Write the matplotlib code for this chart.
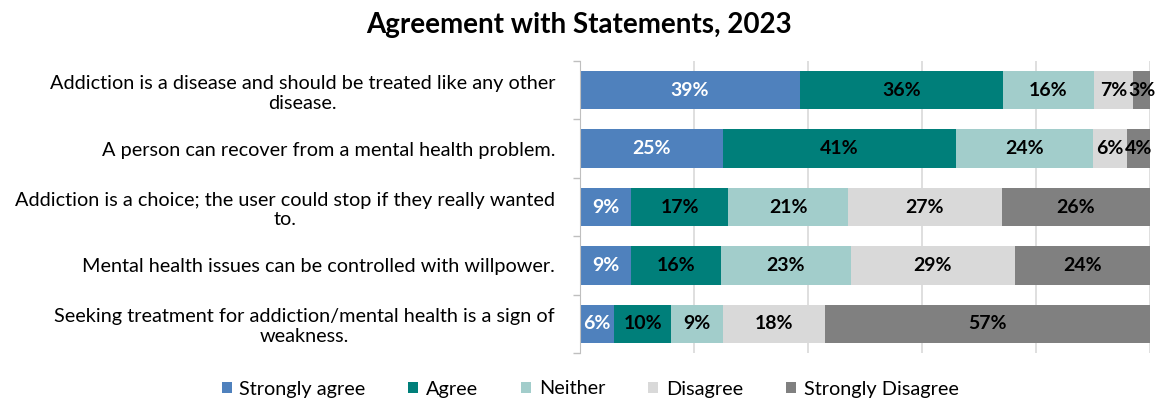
import matplotlib.pyplot as plt
import numpy as np

plt.rcParams['font.family'] = ['Lato', 'DejaVu Sans']

statements = [
    "Addiction is a disease and should be treated like any other\ndisease.",
    "A person can recover from a mental health problem.",
    "Addiction is a choice; the user could stop if they really wanted\nto.",
    "Mental health issues can be controlled with willpower.",
    "Seeking treatment for addiction/mental health is a sign of\nweakness.",
]
responses = ["Strongly agree", "Agree", "Neither", "Disagree", "Strongly Disagree"]
strongly_agree = [39, 25, 9, 9, 6]
agree = [36, 41, 17, 16, 10]
neither = [16, 24, 21, 23, 9]
disagree = [7, 6, 27, 29, 18]
strongly_disagree = [3, 4, 26, 24, 57]

colors = ["#4F81BD", "#007F7A", "#A2CDCB", "#D9D9D9", "#808080"]
text_colors = ["white", "black", "black", "black", "black"]

values = np.array([strongly_agree, agree, neither, disagree, strongly_disagree], dtype=float)
# 100% stacked: scale each row so the segments fill the bar
shares = values / values.sum(axis=0) * 100

fig = plt.figure(figsize=(11.57, 4.03), dpi=100)
ax = fig.add_axes([580 / 1157, 1 - 353 / 403, 570 / 1157, 292 / 403])

y = np.arange(len(statements))
left = np.zeros(len(statements))
for i, name in enumerate(responses):
    ax.barh(y, shares[i], left=left, height=0.66, color=colors[i], label=name, zorder=2)
    for j in range(len(statements)):
        ax.text(left[j] + shares[i][j] / 2, y[j], f"{int(values[i][j])}%",
                ha="center", va="center", fontsize=14, fontweight="bold",
                color=text_colors[i], zorder=3)
    left += shares[i]

ax.set_xlim(0, 100)
ax.set_ylim(len(statements) - 0.5, -0.5)
ax.set_xticks([0, 20, 40, 60, 80, 100])
ax.set_xticklabels([])
ax.tick_params(axis="x", length=0)
ax.grid(axis="x", color="#D9D9D9", linewidth=1.2, zorder=0)

ax.set_yticks(y)
ax.set_yticklabels(statements, fontsize=14.3, multialignment="center")
ax.tick_params(axis="y", which="major", length=0, pad=18)
ax.set_yticks(np.arange(-0.5, len(statements), 1), minor=True)
ax.tick_params(axis="y", which="minor", length=5, color="#BFBFBF", width=1)

for side in ["top", "right", "bottom"]:
    ax.spines[side].set_visible(False)
ax.spines["left"].set_color("#BFBFBF")

fig.suptitle("Agreement with Statements, 2023", x=0.5, y=0.97,
             fontsize=20, fontweight="bold")

fig.legend(loc="center", bbox_to_anchor=(0.51, 1 - 389 / 403), ncol=5,
           frameon=False, fontsize=14.3, handlelength=0.5, handleheight=0.5,
           handletextpad=0.4, columnspacing=2.15)

fig.savefig("out.png", dpi=100)
